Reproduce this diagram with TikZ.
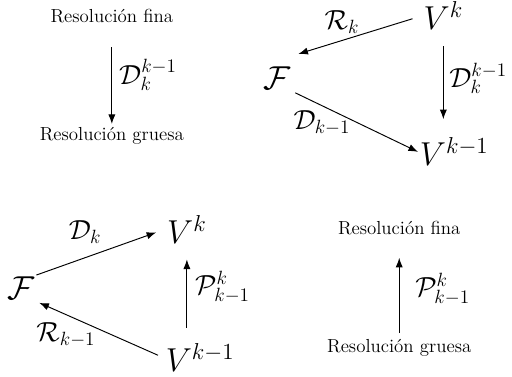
\documentclass[tikz,border=0pt]{standalone}
\usepackage{tikz}
\usetikzlibrary{arrows.meta}
\tikzset{%
		texto/.style={font=\fontsize{11.8}{14}\selectfont,inner sep=2pt},
		mate/.style={font=\huge,inner sep=1pt},
		etiq/.style={font=\fontsize{18.5}{22}\selectfont,inner sep=1pt},
		flecha/.style={draw,line width=.6pt,-{Latex[length=6pt,width=4.5pt]}}
	}
\begin{document}
\begin{tikzpicture}
    \useasboundingbox (0,0) rectangle (11.26,-8.29);
    \node[texto] (fina1) at (2.46,-0.35) {Resolución fina};
    \node[texto] (gruesa1) at (2.46,-2.99) {Resolución gruesa};
    \draw[flecha,shorten <=13pt] (fina1) -- (gruesa1);
    \node[etiq,anchor=west] (baja1) at (2.58,-1.65) {$\mathcal{D}_k^{k-1}$};

    \node[mate] (Vk2) at (9.75,-0.35) {$V^k$};
    \node[mate] (F2) at (6.09,-1.72) {$\mathcal{F}$};
    \node[mate] (Vkm2) at (9.99,-3.34) {$V^{k-1}$};
    \draw[flecha,shorten <=6pt] (Vk2.west) -- ([shift={(3.75pt,6.9pt)}]F2.north east);
    \draw[flecha,shorten <=2pt] (F2.south east) -- (Vkm2.west);
    \draw[flecha,shorten <=9pt,shorten >=10.5pt] (Vk2.south) -- (Vk2.south |- Vkm2.north);
    \node[etiq] (R2) at (7.52,-0.48) {$\mathcal{R}_k$};
    \node[etiq,anchor=west] (baja2) at (9.84,-1.72) {$\mathcal{D}_k^{k-1}$};
    \node[etiq] (D2) at (7.08,-2.71) {$\mathcal{D}_{k-1}$};

    \node[mate] (Vk3) at (4.11,-5.04) {$V^k$};
    \node[mate] (F3) at (0.46,-6.34) {$\mathcal{F}$};
    \node[mate] (Vkm3) at (4.40,-7.87) {$V^{k-1}$};
    \draw[flecha,shorten >=6pt] (F3.north east) -- (Vk3.west);
    \draw[flecha,shorten <=4pt,shorten >=2pt] (Vkm3.west) -- (F3.south east);
    \draw[flecha,shorten <=9pt,shorten >=9pt] (Vk3.south |- Vkm3.north) -- (Vk3.south);
    \node[etiq] (D3) at (1.87,-5.10) {$\mathcal{D}_k$};
    \node[etiq,anchor=west] (sube3) at (4.25,-6.31) {$\mathcal{P}_{k-1}^k$};
    \node[etiq] (R3) at (1.45,-7.37) {$\mathcal{R}_{k-1}$};

    \node[texto] (fina4) at (8.78,-5.02) {Resolución fina};
    \node[texto] (gruesa4) at (8.78,-7.66) {Resolución gruesa};
    \draw[flecha,shorten <=2pt,shorten >=12pt] (gruesa4) -- (fina4);
    \node[etiq,anchor=west] (sube4) at (9.09,-6.36) {$\mathcal{P}_{k-1}^k$};
\end{tikzpicture}
\end{document}
